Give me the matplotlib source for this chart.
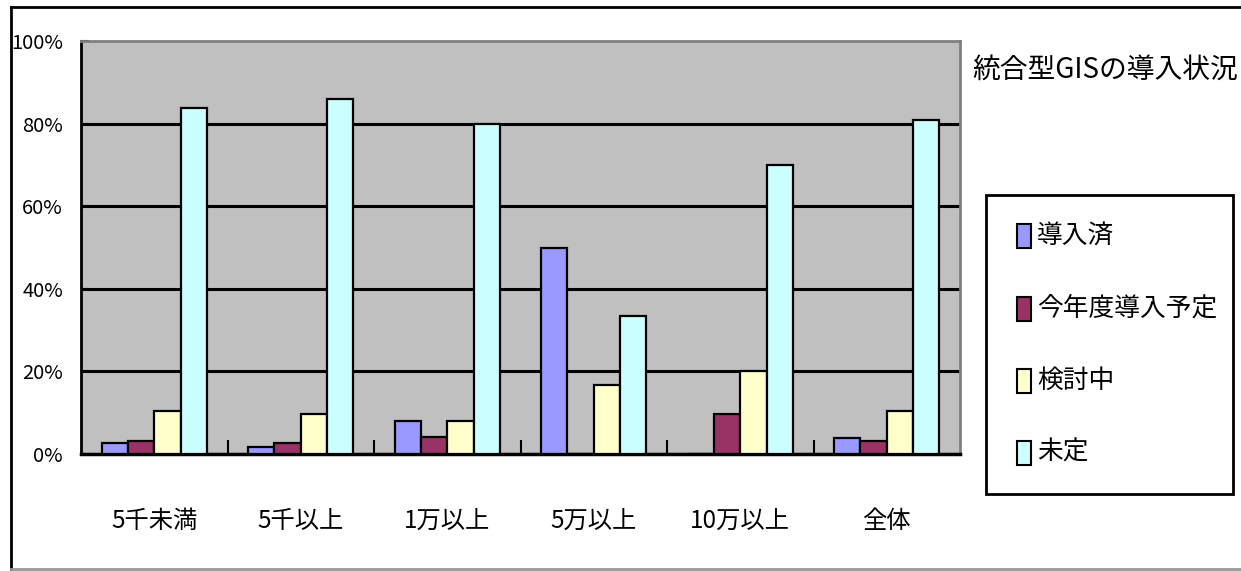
import matplotlib
matplotlib.use("Agg")
import matplotlib.pyplot as plt
from matplotlib.patches import Rectangle
from matplotlib.lines import Line2D
import numpy as np

plt.rcParams['font.family'] = ['Noto Sans CJK JP', 'DejaVu Sans']

categories = ["5千未満", "5千以上", "1万以上", "5万以上", "10万以上", "全体"]
series_names = ["導入済", "今年度導入予定", "検討中", "未定"]
introduced = [2.6, 1.7, 8.0, 50.0, 0.0, 3.9]
planned_this_year = [3.1, 2.6, 4.2, 0.0, 9.6, 3.2]
under_review = [10.4, 9.6, 8.0, 16.7, 20.0, 10.4]
undecided = [83.8, 85.9, 79.9, 33.3, 70.0, 80.9]
y_ticks = [0, 20, 40, 60, 80, 100]
y_tick_labels = ["0%", "20%", "40%", "60%", "80%", "100%"]
title = "統合型GISの導入状況"

colors = ["#9999FF", "#993366", "#FFFFCC", "#CCFFFF"]
values = [introduced, planned_this_year, under_review, undecided]

W, H = 1241, 571
fig = plt.figure(figsize=(W / 100, H / 100), dpi=100)
ax = fig.add_axes([81 / W, 1 - 454 / H, (960 - 81) / W, (454 - 41) / H])
ax.set_facecolor("#C0C0C0")

n = len(categories)
centers = np.arange(n) + 0.5
bw = 0.18
for k, (vals, col) in enumerate(zip(values, colors)):
    ax.bar(centers + (k - 1.5) * bw, vals, width=bw, color=col,
           edgecolor="black", linewidth=1.6, label=series_names[k], zorder=3)

ax.set_xlim(0, n)
ax.set_ylim(0, 100)
ax.set_yticks(y_ticks)
ax.set_yticklabels(y_tick_labels, fontsize=14.5, family=["Noto Sans CJK JP"])
ax.set_xticks(np.arange(1, n))
ax.set_xticklabels([])
ax.tick_params(axis="x", direction="in", length=10, width=1.5, color="black")
ax.tick_params(axis="y", direction="in", length=6, width=1.5, pad=13, color="black")
for i, c in enumerate(categories):
    ax.text(centers[i], -16.2, c, ha="center", va="center", fontsize=17.5,
            transform=ax.transData, clip_on=False)

for y in y_ticks[1:-1]:
    ax.axhline(y, color="black", linewidth=2.2, zorder=2)

ax.spines["left"].set_color("black")
ax.spines["left"].set_linewidth(2)
ax.spines["bottom"].set_color("black")
ax.spines["bottom"].set_linewidth(2.5)
ax.spines["top"].set_color("#808080")
ax.spines["top"].set_linewidth(2)
ax.spines["right"].set_color("#808080")
ax.spines["right"].set_linewidth(2)

fig.text(1105 / W, 1 - 70 / H, title, ha="center", va="center", fontsize=20)

# legend panel
lx0, lx1, ly0, ly1 = 986, 1233, 195, 494
fig.patches.append(Rectangle((lx0 / W, 1 - ly1 / H), (lx1 - lx0) / W, (ly1 - ly0) / H,
                             transform=fig.transFigure, facecolor="white",
                             edgecolor="black", linewidth=2))
row_y = [236, 309, 381, 453]
for name, col, yy in zip(series_names, colors, row_y):
    fig.patches.append(Rectangle((1017 / W, 1 - (yy + 12) / H), 14 / W, 24 / H,
                                 transform=fig.transFigure, facecolor=col,
                                 edgecolor="black", linewidth=1.5))
    fig.text(1037 / W, 1 - yy / H, name, ha="left", va="center", fontsize=18.5)

# outer frame
fig.add_artist(Line2D([11 / W, 1], [1 - 7 / H, 1 - 7 / H], color="black", linewidth=2,
                      transform=fig.transFigure))
fig.add_artist(Line2D([11 / W, 11 / W], [1 - 7 / H, 1 - 569 / H], color="black", linewidth=2,
                      transform=fig.transFigure))
fig.add_artist(Line2D([11 / W, 1], [1 - 569 / H, 1 - 569 / H], color="#999999", linewidth=2,
                      transform=fig.transFigure))

fig.savefig("out.png", dpi=100)
